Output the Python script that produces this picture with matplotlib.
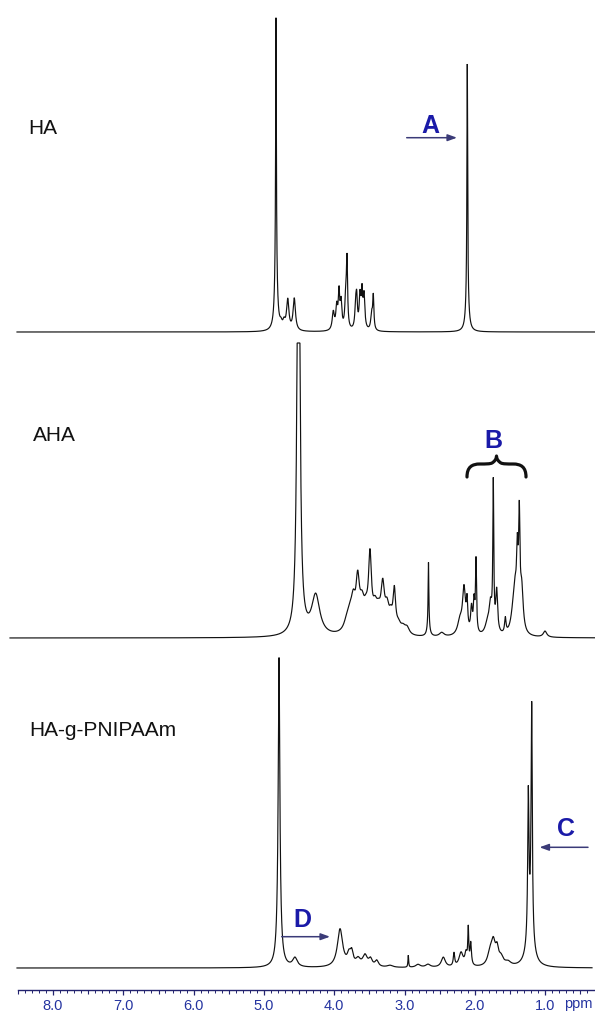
import numpy as np
import matplotlib
matplotlib.use("Agg")
import matplotlib.pyplot as plt
from matplotlib.transforms import Affine2D
from matplotlib.path import Path
from matplotlib.patches import PathPatch, FancyArrowPatch
from matplotlib.ticker import FixedLocator

# ---------------- data (peak lists) ----------------
# chemical shift (ppm), peak height (relative intensity), half width (ppm)
HA_pos = [4.828, 4.828, 4.757, 4.714, 4.661, 4.568,
          4.013, 3.964, 3.932, 3.903, 3.836, 3.818, 3.694, 3.680,
          3.633, 3.605, 3.576, 3.467, 3.444, 2.107, 2.107]
HA_height = [255, 58, 5, 7, 30, 32,
             18, 22, 35, 26, 30, 64, 22, 26,
             32, 34, 33, 16, 33, 230, 38]
HA_width = [0.006, 0.022, 0.02, 0.02, 0.02, 0.02,
            0.018, 0.015, 0.012, 0.014, 0.015, 0.010, 0.014, 0.012,
            0.014, 0.012, 0.014, 0.015, 0.010, 0.006, 0.022]

AHA_pos = [4.508, 4.263,
           3.822, 3.775, 3.728, 3.666, 3.605, 3.548, 3.491, 3.420, 3.370,
           3.310, 3.249, 3.196, 3.145, 3.085, 3.021, 2.964,
           2.659, 2.659, 2.471,
           2.211, 2.154, 2.111, 2.047, 2.011, 1.983,
           1.822, 1.777, 1.737, 1.689, 1.566,
           1.457, 1.428, 1.395, 1.367, 1.333, 1.001]
AHA_height = [600, 40,
              8, 16, 24, 46, 24, 16, 70, 20, 15,
              42, 22, 13, 40, 8, 6, 7,
              62, 12, 4,
              14, 45, 28, 25, 30, 72,
              10, 28, 145, 42, 15,
              14, 36, 65, 100, 42, 6]
AHA_width = [0.02, 0.07,
             0.05, 0.05, 0.035, 0.03, 0.04, 0.04, 0.025, 0.04, 0.04,
             0.03, 0.035, 0.03, 0.022, 0.04, 0.04, 0.04,
             0.006, 0.02, 0.04,
             0.04, 0.025, 0.012, 0.015, 0.012, 0.009,
             0.04, 0.025, 0.008, 0.016, 0.012,
             0.04, 0.03, 0.014, 0.011, 0.025, 0.03]
AHA_clip = 295   # the solvent peak is cut off at this intensity

GP_pos = [4.785, 4.785, 4.558,
          3.917, 3.790, 3.751, 3.661, 3.562, 3.484, 3.395, 3.206,
          2.946, 2.808, 2.666, 2.448, 2.296, 2.196, 2.125, 2.093, 2.058,
          1.784, 1.737, 1.684, 1.627, 1.528,
          1.239, 1.191, 1.215]
GP_height = [220, 90, 9,
             38, 10, 12, 7, 11, 7, 6, 2,
             12, 3, 3, 10, 13, 14, 12, 35, 22,
             12, 22, 14, 8, 4,
             140, 228, 40]
GP_width = [0.012, 0.025, 0.04,
            0.045, 0.03, 0.025, 0.04, 0.04, 0.03, 0.03, 0.05,
            0.006, 0.04, 0.04, 0.035, 0.012, 0.035, 0.02, 0.008, 0.012,
            0.04, 0.035, 0.025, 0.04, 0.05,
            0.010, 0.010, 0.05]

tick_values = [8.0, 7.0, 6.0, 5.0, 4.0, 3.0, 2.0, 1.0]
tick_labels = ["8.0", "7.0", "6.0", "5.0", "4.0", "3.0", "2.0", "1.0"]
sample_names = ["HA", "AHA", "HA-g-PNIPAAm"]

# ---------------- figure ----------------
W, H = 595, 1013
fig = plt.figure(figsize=(W / 100, H / 100), dpi=100)
fig.patch.set_facecolor("white")
px = Affine2D().scale(1.0 / W, -1.0 / H).translate(0, 1) + fig.transFigure

FONT = "Liberation Sans"
NAVY = "#23236e"
BLUE = "#2433a0"
LETTER = "#1a1aa8"
ARROW = "#3b3b78"


def ppm_at(xpix):
    return 8.0 - (xpix - 53.0) / 70.3


def spectrum(x, pos, height, width):
    xx = x[:, None]
    p = np.asarray(pos)[None, :]
    h = np.asarray(height, dtype=float)[None, :]
    g = np.asarray(width)[None, :]
    return (h * g ** 2 / ((xx - p) ** 2 + g ** 2)).sum(axis=1)


panels = [
    (HA_pos, HA_height, HA_width, 332, 17, 595, None),
    (AHA_pos, AHA_height, AHA_width, 638, 10, 595, AHA_clip),
    (GP_pos, GP_height, GP_width, 968, 17, 592, None),
]

for pos, hgt, wid, base, x0, x1, clip in panels:
    ax = fig.add_axes([0, 0, 1, 1])
    ax.set_xlim(ppm_at(0), ppm_at(W))
    ax.set_ylim(base - H, base)
    ax.axis("off")
    x = np.linspace(ppm_at(x0), ppm_at(x1), 40000)
    y = spectrum(x, pos, hgt, wid)
    if clip is not None:
        y = np.minimum(y, clip)
    ax.plot(x, y, color="#111111", lw=0.85, solid_joinstyle="miter")

# ---------------- ppm ruler ----------------
rx0, rx1, ry = 18, 595, 990
rax = fig.add_axes([rx0 / W, (H - ry) / H, (rx1 - rx0) / W, 1.0 / H])
rax.set_xlim(ppm_at(rx0), ppm_at(rx1))
rax.patch.set_visible(False)
for s in ["top", "left", "right"]:
    rax.spines[s].set_visible(False)
rax.spines["bottom"].set_color(NAVY)
rax.spines["bottom"].set_linewidth(1.0)
rax.set_yticks([])
rax.set_xticks(tick_values)
rax.set_xticklabels(tick_labels, fontfamily=FONT)
minor = [v / 10 for v in range(4, 86) if v % 5 != 0]
rax.xaxis.set_minor_locator(FixedLocator(minor))
rax.tick_params(which="major", direction="out", length=3.8, width=0.9,
                color=NAVY, labelcolor=BLUE, labelsize=10.5, pad=2.5)
rax.tick_params(which="minor", direction="out", length=1.9, width=0.7,
                color=NAVY)

rax2 = fig.add_axes([rx0 / W, (H - ry) / H, (rx1 - rx0) / W, 1.0 / H])
rax2.set_xlim(ppm_at(rx0), ppm_at(rx1))
rax2.patch.set_visible(False)
for s in rax2.spines.values():
    s.set_visible(False)
rax2.set_yticks([])
rax2.set_xticks([v + 0.5 for v in range(0, 9)])
rax2.set_xticklabels([])
rax2.tick_params(which="major", direction="out", length=2.8, width=0.8,
                 color=NAVY)

fig.text(578 / W, 1 - 1008 / H, "ppm", fontfamily=FONT, fontsize=10.5,
         color=BLUE, ha="center", va="baseline")

# ---------------- sample names ----------------
for name, (lx, ly) in zip(sample_names, [(28, 134), (33, 441), (29, 736)]):
    fig.text(lx / W, 1 - ly / H, name, fontfamily=FONT, fontsize=15,
             color="#111111", ha="left", va="baseline")

# ---------------- annotations ----------------
for letter, (tx, ty) in zip("ABCD", [(430, 132.7), (493.5, 448.3),
                                    (565.5, 836.5), (302.5, 926.7)]):
    fig.text(tx / W, 1 - ty / H, letter, fontfamily=FONT, fontsize=18,
             fontweight="bold", color=LETTER, ha="center", va="baseline")

for (xa, ya), (xb, yb) in [((406.7, 137.7), (457, 137.7)),
                           ((588, 847.3), (539.5, 847.3)),
                           ((281.7, 936.7), (330, 936.7))]:
    arr = FancyArrowPatch((xa, ya), (xb, yb), transform=px,
                          arrowstyle="-|>,head_length=5.5,head_width=2.0",
                          mutation_scale=1, lw=1.1, color=ARROW,
                          shrinkA=0, shrinkB=0)
    fig.add_artist(arr)

# curly brace over group B
verts = [(467, 477), (467, 467), (472, 464), (480, 464),
         (486, 464), (490, 464), (492, 463),
         (494.5, 461.5), (496.5, 459), (496.5, 456),
         (496.5, 459), (498.5, 461.5), (501, 463),
         (503, 464), (507, 464), (513, 464),
         (521, 464), (526, 467), (526, 477)]
codes = [Path.MOVETO] + [Path.CURVE4] * 18
brace = PathPatch(Path(verts, codes), transform=px, fill=False, lw=2.3,
                  edgecolor="#111111", capstyle="round", joinstyle="round")
fig.add_artist(brace)

fig.savefig("out.png", dpi=100, facecolor="white")
